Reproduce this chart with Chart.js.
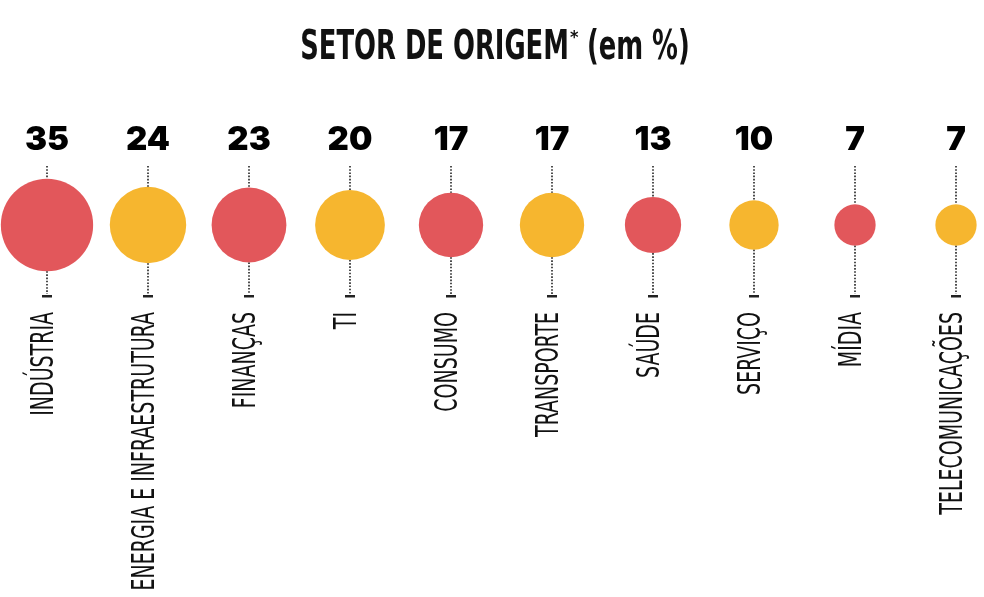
<!DOCTYPE html>
<html>
<head>
<meta charset="utf-8">
<script src="https://cdn.jsdelivr.net/npm/chart.js@4.4.1/dist/chart.umd.min.js"></script>
<style>
  html, body { margin: 0; padding: 0; background: #ffffff; }
  #wrap { position: relative; width: 984px; height: 597px; }
</style>
</head>
<body>
<div id="wrap"><canvas id="setorChart" width="984" height="597"></canvas></div>
<script>
const categories = ['INDÚSTRIA', 'ENERGIA E INFRAESTRUTURA', 'FINANÇAS', 'TI', 'CONSUMO',
    'TRANSPORTE', 'SAÚDE', 'SERVIÇO', 'MÍDIA', 'TELECOMUNICAÇÕES'];
const values = [35, 24, 23, 20, 17, 17, 13, 10, 7, 7];
const palette = ['#E2575B', '#F6B62F'];

const narrowFont = '"Liberation Sans Narrow", "DejaVu Sans Condensed", "Liberation Sans", sans-serif';

// radius proportional to sqrt so bubble area follows the value
const bubbleRadius = (v) => Math.sqrt(v) * 7.8;

// bubble charts pad the chart area by the biggest radius, so fit the ranges around it
const W = 984, H = 597;
const pad = bubbleRadius(Math.max(...values));
const firstX = 47, stepX = 101, centerY = 225;
const xMin = -(firstX - pad) / stepX;
const xMax = xMin + (W - 2 * pad) / stepX;
const yMax = centerY - pad;
const yMin = -(H - pad - centerY);

const decorPlugin = {
    id: 'decor',
    afterDatasetsDraw(chart) {
        const ctx = chart.ctx;
        const xs = chart.scales.x;
        const ys = chart.scales.y;
        const cy = ys.getPixelForValue(0);

        ctx.save();
        // title
        ctx.fillStyle = '#111';
        ctx.textBaseline = 'alphabetic';
        ctx.textAlign = 'left';
        ctx.font = 'bold 41px ' + narrowFont;
        const main = 'SETOR DE ORIGEM';
        const tail = ' (em %)';
        const sx = 0.7;
        const wMain = ctx.measureText(main).width * sx;
        const wTail = ctx.measureText(tail).width * sx;
        const wStar = 9;
        const x0 = W / 2 - (wMain + wStar + wTail) / 2 + 3;
        ctx.save();
        ctx.translate(x0, 59);
        ctx.scale(sx, 1);
        ctx.fillText(main, 0, 0);
        ctx.restore();
        ctx.font = 'bold 18px ' + narrowFont;
        ctx.fillText('*', x0 + wMain + 1, 43);
        ctx.font = 'bold 41px ' + narrowFont;
        ctx.save();
        ctx.translate(x0 + wMain + wStar, 59);
        ctx.scale(sx, 1);
        ctx.fillText(tail, 0, 0);
        ctx.restore();

        values.forEach((v, i) => {
            const x = xs.getPixelForValue(i);
            const r = bubbleRadius(v);

            // value above
            ctx.fillStyle = '#000';
            ctx.textAlign = 'center';
            ctx.textBaseline = 'alphabetic';
            ctx.font = '900 33px Inter, "DejaVu Sans", sans-serif';
            ctx.fillText(String(v), x, 150);

            // dotted guides
            ctx.strokeStyle = '#222';
            ctx.lineWidth = 1.6;
            ctx.setLineDash([1.6, 1.6]);
            ctx.beginPath();
            ctx.moveTo(x, 166);
            ctx.lineTo(x, cy - r);
            ctx.moveTo(x, cy + r);
            ctx.lineTo(x, 294);
            ctx.stroke();
            ctx.setLineDash([]);
            ctx.fillStyle = '#222';
            ctx.fillRect(x - 5, 295, 10, 2.5);

            // category label, vertical
            ctx.save();
            ctx.translate(x - 2, 312);
            ctx.rotate(-Math.PI / 2);
            ctx.scale(0.66, 1);
            ctx.fillStyle = '#111';
            ctx.textAlign = 'right';
            ctx.textBaseline = 'middle';
            ctx.font = '32px ' + narrowFont;
            ctx.fillText(categories[i], 0, 0);
            ctx.restore();
        });
        ctx.restore();
    }
};

const chart = new Chart(document.getElementById('setorChart').getContext('2d'), {
    type: 'bubble',
    data: {
        labels: categories,
        datasets: [{
            label: 'Setor de origem',
            data: values.map((v, i) => ({ x: i, y: 0 })),
            radius: (c) => bubbleRadius(values[c.dataIndex]),
            backgroundColor: values.map((v, i) => palette[i % 2]),
            borderWidth: 0,
            clip: false
        }]
    },
    options: {
        responsive: false,
        animation: false,
        events: [],
        layout: { padding: 0 },
        scales: {
            x: { type: 'linear', min: xMin, max: xMax, display: false },
            y: { type: 'linear', min: yMin, max: yMax, display: false }
        },
        plugins: {
            legend: { display: false },
            tooltip: { enabled: false }
        }
    },
    plugins: [decorPlugin]
});
</script>
</body>
</html>
